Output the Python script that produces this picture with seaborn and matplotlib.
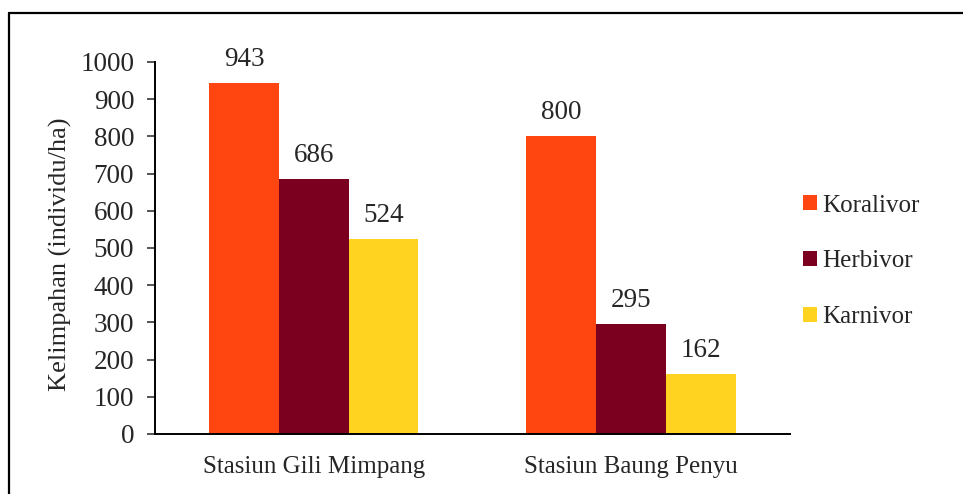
import matplotlib
matplotlib.use('Agg')
import matplotlib.pyplot as plt
import seaborn as sns
import pandas as pd
from matplotlib.lines import Line2D

# data
stations = ['Stasiun Gili Mimpang', 'Stasiun Baung Penyu']
groups = ['Koralivor', 'Herbivor', 'Karnivor']
koralivor = [943, 800]
herbivor = [686, 295]
karnivor = [524, 162]
colors = ['#FF4611', '#7B0020', '#FFD320']

df = pd.DataFrame({
    'Stasiun': stations * 3,
    'Kelompok': [g for g in groups for _ in stations],
    'Kelimpahan': koralivor + herbivor + karnivor,
})

sns.set_style('white')
plt.rcParams['font.family'] = ['Liberation Serif', 'Times New Roman', 'STIXGeneral', 'DejaVu Serif']

fig = plt.figure(figsize=(9.63, 4.94), dpi=100)
ax = fig.add_axes([0.161, 0.1215, 0.659, 0.753])

sns.barplot(data=df, x='Stasiun', y='Kelimpahan', hue='Kelompok',
            palette=colors, saturation=1, width=0.66, gap=0, edgecolor='none',
            linewidth=0, ax=ax, legend=True)

for cont in ax.containers:
    ax.bar_label(cont, padding=8, fontsize=19.5)

ax.set_ylim(0, 1000)
ax.set_yticks(range(0, 1001, 100))
ax.set_xlim(-0.5, 1.5)
ax.set_xlabel('')
ax.set_ylabel('Kelimpahan (individu/ha)', fontsize=19)
ax.yaxis.set_label_coords(-0.131, 0.484)
ax.tick_params(axis='y', labelsize=19.5, left=True, length=6, width=1.1, direction='out', pad=9)
ax.tick_params(axis='x', labelsize=18, bottom=False, pad=12)

for side in ['top', 'right']:
    ax.spines[side].set_visible(False)
for side in ['left', 'bottom']:
    ax.spines[side].set_color('black')
    ax.spines[side].set_linewidth(1.4)

handles, labels = ax.get_legend_handles_labels()
ax.legend(handles, labels, loc='center left', bbox_to_anchor=(0.8105, 0.471),
          bbox_transform=fig.transFigure, frameon=False, fontsize=18,
          handlelength=0.55, handleheight=0.55, handletextpad=0.2,
          labelspacing=1.35)

# outer frame (top and left edges only visible)
fig.add_artist(Line2D([0.0093, 1.0], [0.9737, 0.9737], color='black', lw=1.6,
                      transform=fig.transFigure))
fig.add_artist(Line2D([0.0093, 0.0093], [0.0, 0.9737], color='black', lw=1.6,
                      transform=fig.transFigure))

fig.savefig('out.png', dpi=100)
